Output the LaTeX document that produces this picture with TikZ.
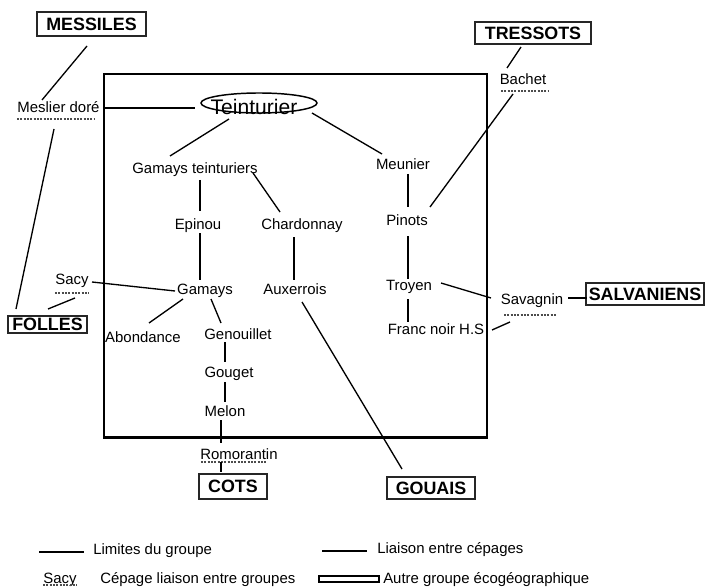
\documentclass[tikz,border=0pt]{standalone}
\usepackage{fontspec}
\setmainfont{Liberation Sans}
\usetikzlibrary{shapes.geometric}
\begin{document}
\begin{tikzpicture}[x=0.75pt,y=-0.75pt,
  lbl/.style={inner sep=0pt, text height=8pt, text depth=0pt, font=\fontsize{11.2}{13}\selectfont},
  grp/.style={draw=black!85, line width=1.1pt, inner sep=0pt,
     text height=9.6pt, text depth=0pt, font=\fontsize{13.4}{15}\selectfont\bfseries},
  link/.style={line width=1pt},
  under/.style={draw=black!70, line width=0.85pt, dash pattern=on 1.6pt off 0.9pt},
  limit/.style={line width=1.6pt}]
\useasboundingbox (0,0) rectangle (714,588);

% group boxes
\node[grp, minimum width=81.75pt, minimum height=18pt] (messiles) at (91.5,24) {MESSILES};
\node[grp, minimum width=87pt, minimum height=16.5pt] (tressots) at (533,33) {TRESSOTS};
\node[grp, minimum width=88.5pt, minimum height=16.5pt] (salvaniens) at (645,294) {SALVANIENS};
\node[grp, minimum width=59.25pt, minimum height=13pt] (folles) at (47.5,324.5) {FOLLES};
\node[grp, minimum width=51pt, minimum height=18.75pt] (cots) at (233,486.5) {COTS};
\node[grp, minimum width=66pt, minimum height=16.5pt] (gouais) at (431,488) {GOUAIS};

% main group limit
\draw[limit] (104,74) rectangle (487,437.5);

% Teinturier
\node[draw, ellipse, line width=1.1pt, inner sep=0pt, minimum width=87pt, minimum height=15pt] (teintE) at (259,103) {};
\node[inner sep=0pt, text height=11.2pt, text depth=0pt, font=\fontsize{15.8}{18}\selectfont] (teint) at (254,107.5) {Teinturier};

% cultivar labels
\node[lbl] (meslier) at (58.5,107) {Meslier doré};
\node[lbl] (gt) at (195,168) {Gamays teinturiers};
\node[lbl] (meunier) at (403,164) {Meunier};
\node[lbl] (bachet) at (523,79) {Bachet};
\node[lbl] (epinou) at (198,224) {Epinou};
\node[lbl] (chardonnay) at (302,224) {Chardonnay};
\node[lbl] (pinots) at (407,220) {Pinots};
\node[lbl] (gamays) at (205,289) {Gamays};
\node[lbl] (auxerrois) at (295,289) {Auxerrois};
\node[lbl] (sacy) at (72,279) {Sacy};
\node[lbl] (troyen) at (409,285) {Troyen};
\node[lbl] (savagnin) at (532,299) {Savagnin};
\node[lbl] (franc) at (436,329) {Franc noir H.S};
\node[lbl] (abondance) at (143,337) {Abondance};
\node[lbl] (genouillet) at (238,334) {Genouillet};
\node[lbl] (gouget) at (229,372) {Gouget};
\node[lbl] (melon) at (225,411) {Melon};
\node[lbl] (romorantin) at (239,454) {Romorantin};

% dashed underlines (cultivars linking groups)
\draw[under] ([shift={(-41.5,12)}]meslier.center) -- ([shift={(36.5,12)}]meslier.center);
\draw[under] ([shift={(-22,12)}]bachet.center) -- ([shift={(26,12)}]bachet.center);
\draw[under] ([shift={(-28,16)}]savagnin.center) -- ([shift={(24,16)}]savagnin.center);
\draw[under] ([shift={(-17,14)}]sacy.center) -- ([shift={(17,14)}]sacy.center);
\draw[under] ([shift={(-38,8)}]romorantin.center) -- ([shift={(28,8)}]romorantin.center);

% connectors
\draw[link] ([shift={(-4.5,22)}]messiles.center) -- ([shift={(-16.5,-7)}]meslier.center);
\draw[link] ([shift={(44.5,1)}]meslier.center) -- ([shift={(-59,0.5)}]teint.center);
\draw[link] ([shift={(-4.5,22)}]meslier.center) -- ([shift={(-31.5,-15.5)}]folles.center);
\draw[link] ([shift={(-25,11.5)}]teint.center) -- ([shift={(-25,-12)}]gt.center);
\draw[link] ([shift={(58,5.5)}]teint.center) -- ([shift={(-21,-10)}]meunier.center);
\draw[link] ([shift={(-12,14)}]tressots.center) -- ([shift={(-16,-11)}]bachet.center);
\draw[link] ([shift={(-10,15)}]bachet.center) -- ([shift={(23,-13)}]pinots.center);
\draw[link] ([shift={(5,10)}]meunier.center) -- ([shift={(1,-13)}]pinots.center);
\draw[link] ([shift={(1,16)}]pinots.center) -- ([shift={(-1,-6)}]troyen.center);
\draw[link] ([shift={(-1,14)}]troyen.center) -- ([shift={(-28,-7)}]franc.center);
\draw[link] ([shift={(32,-2)}]troyen.center) -- ([shift={(-41,-1)}]savagnin.center);
\draw[link] ([shift={(36,-1)}]savagnin.center) -- ([shift={(-58,4)}]salvaniens.center);
\draw[link] ([shift={(56,1)}]franc.center) -- ([shift={(-22,23)}]savagnin.center);
\draw[link] ([shift={(5,12)}]gt.center) -- ([shift={(2,-13)}]epinou.center);
\draw[link] ([shift={(58,5)}]gt.center) -- ([shift={(-22,-12)}]chardonnay.center);
\draw[link] ([shift={(2,9)}]epinou.center) -- ([shift={(-5,-9)}]gamays.center);
\draw[link] ([shift={(-8,13)}]chardonnay.center) -- ([shift={(-1,-9)}]auxerrois.center);
\draw[link] ([shift={(20,3)}]sacy.center) -- ([shift={(-30,2)}]gamays.center);
\draw[link] ([shift={(3,19)}]sacy.center) -- ([shift={(0.5,-15.5)}]folles.center);
\draw[link] ([shift={(-22,10)}]gamays.center) -- ([shift={(6,-14)}]abondance.center);
\draw[link] ([shift={(6,10)}]gamays.center) -- ([shift={(-17,-11)}]genouillet.center);
\draw[link] ([shift={(-13,8)}]genouillet.center) -- ([shift={(-4,-10)}]gouget.center);
\draw[link] ([shift={(-4,10)}]gouget.center) -- ([shift={(0,-9)}]melon.center);
\draw[link] ([shift={(-4,9)}]melon.center) -- ([shift={(-18,-11)}]romorantin.center);
\draw[link] ([shift={(-18,8)}]romorantin.center) -- ([shift={(-12,-15)}]cots.center);
\draw[link] ([shift={(7,13)}]auxerrois.center) -- ([shift={(-29,-19)}]gouais.center);

% legend
\coordinate (l1a) at (39,552);
\coordinate (l1b) at (84,552);
\draw[limit] (l1a) -- (l1b);
\node[lbl, anchor=west] (leg1) at (93,549) {Limites du groupe};
\coordinate (l2a) at (322,551);
\coordinate (l2b) at (367,551);
\draw[link] (l2a) -- (l2b);
\node[lbl, anchor=west] (leg2) at (377,548) {Liaison entre cépages};
\node[lbl] (legsacy) at (60,578) {Sacy};
\draw[under] ([shift={(-17,7)}]legsacy.center) -- ([shift={(17,7)}]legsacy.center);
\node[lbl, anchor=west] (leg3) at (100,578) {Cépage liaison entre groupes};
\node[draw, line width=0.8pt, inner sep=0pt, minimum width=45pt, minimum height=4.5pt] (legbox) at (349,579) {};
\node[lbl, anchor=west] (leg4) at (383,578) {Autre groupe écogéographique};
\end{tikzpicture}
\end{document}
